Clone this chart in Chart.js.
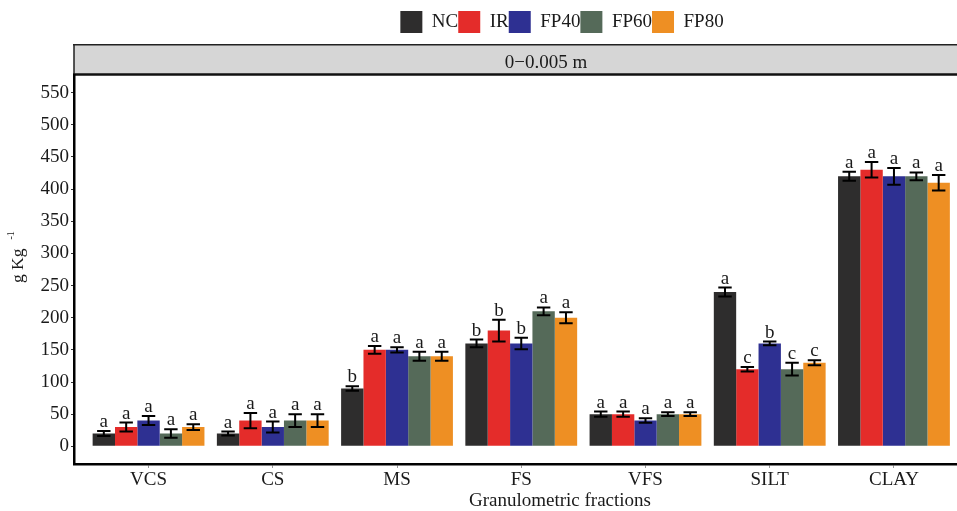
<!DOCTYPE html>
<html><head><meta charset="utf-8">
<script src="https://cdn.jsdelivr.net/npm/chart.js@4.4.1/dist/chart.umd.min.js"></script>
<style>
html,body{margin:0;padding:0;background:#fff;overflow:hidden;width:957px;height:511px}
#wrap{position:relative;width:1000px;height:511px}
</style></head><body>
<div id="wrap"><canvas id="c" width="1000" height="511"></canvas></div>
<script>
// ---- data ----
const categories = ['VCS','CS','MS','FS','VFS','SILT','CLAY'];
const seriesNames = ['NC','IR','FP40','FP60','FP80'];
const NC   = [20, 20,  90, 160, 50, 240, 420];
const IR   = [30, 40, 150, 180, 50, 120, 430];
const FP40 = [40, 30, 150, 160, 40, 160, 420];
const FP60 = [20, 40, 140, 210, 50, 120, 420];
const FP80 = [30, 40, 140, 200, 50, 130, 410];
const NC_err   = [4, 3, 3.5, 6, 4, 7, 7];
const IR_err   = [7, 12, 6, 17, 4, 3.5, 12];
const FP40_err = [7, 8.5, 4, 9, 3.5, 3, 13];
const FP60_err = [6.5, 10, 7, 6, 3, 10, 6];
const FP80_err = [4.5, 10, 7, 8.5, 3, 4, 12];
const NC_sig   = ['a','a','b','b','a','a','a'];
const IR_sig   = ['a','a','a','b','a','c','a'];
const FP40_sig = ['a','a','a','b','a','b','a'];
const FP60_sig = ['a','a','a','a','a','c','a'];
const FP80_sig = ['a','a','a','a','a','c','a'];
const yTicks = [0,50,100,150,200,250,300,350,400,450,500,550];
const panelTitle = '0\u22120.005 m';
const xTitle = 'Granulometric fractions';

const values = [NC, IR, FP40, FP60, FP80];
const errs = [NC_err, IR_err, FP40_err, FP60_err, FP80_err];
const sigs = [NC_sig, IR_sig, FP40_sig, FP60_sig, FP80_sig];
const colors = ['#2e2d2d', '#e42c2a', '#2e3092', '#556a59', '#ee8f23'];

const FONT = "'Liberation Serif','Times New Roman',serif";
const TXT = '#1a1a1a';

const datasets = seriesNames.map((n, k) => ({
  label: n,
  data: values[k].map((v, i) => ({x: i, y: v})),
  backgroundColor: colors[k],
  borderWidth: 0,
  categoryPercentage: 0.9,
  barPercentage: 1.0
}));

const layoutPlugin = {
  id: 'shiftBoxes',
  afterLayout(chart) {
    const lg = chart.legend;
    if (lg) { const dx = 562 - (lg.left + lg.right) / 2; lg.left += dx; lg.right += dx; }
    const t = chart.titleBlock;
    if (t) { const dx = 546 - (t.left + t.right) / 2; t.left += dx; t.right += dx; }
  }
};

const stripPlugin = {
  id: 'strip',
  beforeDraw(chart) {
    const c = chart.ctx, a = chart.chartArea;
    c.save();
    c.fillStyle = '#d6d6d6';
    c.fillRect(a.left, 44, chart.width, a.top - 44);
    c.strokeStyle = '#222';
    c.lineWidth = 1.5;
    c.beginPath();
    c.moveTo(a.left - 1, 44.75); c.lineTo(chart.width, 44.75);
    c.moveTo(a.left, 44); c.lineTo(a.left, a.top);
    c.stroke();
    c.lineWidth = 2.5;
    c.strokeStyle = '#111';
    c.beginPath();
    c.moveTo(a.left - 1, a.top - 0.5); c.lineTo(chart.width, a.top - 0.5);
    c.stroke();
    c.restore();
  }
};

const errorPlugin = {
  id: 'errs',
  afterDatasetsDraw(chart) {
    const y = chart.scales.y, c = chart.ctx;
    chart.data.datasets.forEach((ds, di) => {
      const meta = chart.getDatasetMeta(di);
      meta.data.forEach((bar, i) => {
        const v = ds.data[i].y, e = errs[di][i];
        const yt = y.getPixelForValue(v + e), yb = y.getPixelForValue(v - e);
        const hw = bar.width * 0.3;
        c.save();
        c.strokeStyle = '#000'; c.lineWidth = 2;
        c.beginPath();
        c.moveTo(bar.x, yt); c.lineTo(bar.x, yb);
        c.moveTo(bar.x - hw, yt); c.lineTo(bar.x + hw, yt);
        c.moveTo(bar.x - hw, yb); c.lineTo(bar.x + hw, yb);
        c.stroke();
        c.fillStyle = TXT; c.font = '19px ' + FONT;
        c.textAlign = 'center'; c.textBaseline = 'alphabetic';
        c.fillText(sigs[di][i], bar.x, yt - 4);
        c.restore();
      });
    });
  }
};

const titlesPlugin = {
  id: 'axisTitles',
  afterDraw(chart) {
    const c = chart.ctx;
    c.save();
    c.fillStyle = TXT;
    c.font = '19px ' + FONT;
    c.textAlign = 'center'; c.textBaseline = 'alphabetic';
    c.fillText(xTitle, 560, 506);
    // y title: g Kg^-1
    c.translate(22.5, 283);
    c.rotate(-Math.PI / 2);
    c.textAlign = 'left';
    c.font = '17.5px ' + FONT;
    c.fillText('g Kg', 0, 0);
    const w = c.measureText('g Kg').width;
    c.font = '10px ' + FONT;
    c.fillText('-1', w + 9, -9);
    c.restore();
  }
};

new Chart(document.getElementById('c'), {
  type: 'bar',
  data: { datasets },
  plugins: [layoutPlugin, stripPlugin, errorPlugin, titlesPlugin],
  options: {
    responsive: false,
    animation: false,
    devicePixelRatio: 1,
    layout: { padding: { top: 11, right: 31.5, left: 0, bottom: 0 } },
    plugins: {
      tooltip: { enabled: false },
      legend: {
        position: 'top',
        labels: { boxWidth: 22, boxHeight: 22, padding: 0, color: TXT, font: { family: FONT, size: 19 } }
      },
      title: {
        display: true, text: panelTitle, position: 'top', weight: 500,
        color: TXT, font: { family: FONT, size: 19, weight: 'normal' },
        padding: { top: 9, bottom: 0.2 }
      }
    },
    scales: {
      x: {
        type: 'linear', min: -0.6, max: 6.6, offset: false,
        afterBuildTicks: (s) => { s.ticks = categories.map((_, i) => ({ value: i })); },
        afterFit: (s) => { s.height = 47; },
        ticks: { callback: (v) => categories[v] ?? '', color: TXT, font: { family: FONT, size: 19 }, padding: 1, autoSkip: false, maxRotation: 0 },
        grid: { offset: false, drawOnChartArea: false, tickLength: 4, tickColor: '#999', tickWidth: 1 },
        border: { color: '#000', width: 2.5 }
      },
      y: {
        type: 'linear', min: -27.5, max: 577.5,
        afterBuildTicks: (s) => { s.ticks = yTicks.map(v => ({ value: v })); },
        afterFit: (s) => { s.width = 74; },
        ticks: { color: TXT, font: { family: FONT, size: 19 }, padding: 2 },
        grid: { drawOnChartArea: false, tickLength: 3, tickColor: '#333', tickWidth: 1 },
        border: { color: '#000', width: 2.5 }
      }
    }
  }
});
</script>
</body></html>
